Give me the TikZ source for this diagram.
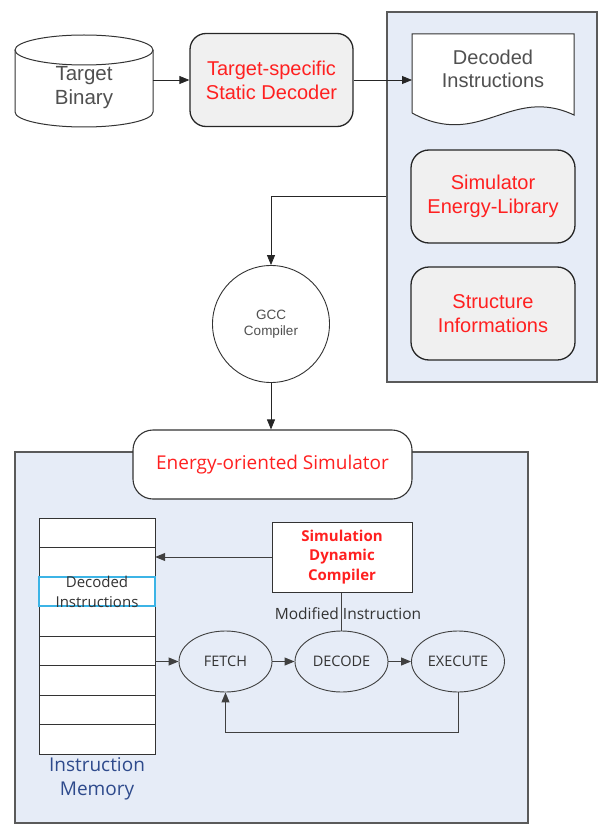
\documentclass[tikz,border=0pt]{standalone}
\usepackage{fontspec}
\setmainfont{Liberation Sans}
\newfontfamily\osfont{Open Sans}
\usetikzlibrary{arrows.meta,shapes.geometric,calc}
\definecolor{redtxt}{HTML}{FF2020}
\definecolor{panelfill}{HTML}{E6ECF7}
\definecolor{panelline}{HTML}{5A5A5A}
\definecolor{boxfill}{HTML}{F0F0F0}
\definecolor{graytxt}{HTML}{505050}
\definecolor{darktxt}{HTML}{333333}
\definecolor{memblue}{HTML}{2E4A8C}
\definecolor{cyanline}{HTML}{3CB4E6}
\tikzset{
  panel/.style={draw=panelline, line width=1.1pt, fill=panelfill, inner sep=0pt},
  rbox/.style={draw=black!85, line width=1.3pt, fill=boxfill, rounded corners=16pt,
    minimum width=163pt, minimum height=93pt, align=center, text=redtxt,
    font=\fontsize{20}{24}\selectfont},
  arr/.style={-{Triangle[length=10pt,width=8pt]}, line width=0.8pt, draw=black!85},
  sarr/.style={-{Triangle[length=10pt,width=8pt]}, line width=1pt, draw=black!75},
  stage/.style={ellipse, draw=black!75, line width=0.9pt, fill=panelfill, inner sep=0pt,
    minimum width=93pt, minimum height=61pt, text=darktxt, font=\osfont\fontsize{14.5}{17}\selectfont},
}
\begin{document}
\begin{tikzpicture}[x=1pt,y=-1pt]
\useasboundingbox (0,0) rectangle (599,824);
% panels
\node[panel, minimum width=210pt, minimum height=370pt] (rpanel) at (492,197) {};
\node[panel, minimum width=513pt, minimum height=371pt] (bpanel) at (271.5,637.5) {};

% Target Binary cylinder
\node[minimum width=138pt, minimum height=93pt, inner sep=0pt] (tb) at (84,80.5) {};
\draw[black!80, line width=1pt, fill=white] (15,50) -- (15,112) arc[start angle=180, end angle=360, x radius=69, y radius=-15] -- (153,50);
\draw[black!80, line width=1pt, fill=white] (84,50) ellipse[x radius=69, y radius=15];
\node[align=center, text=graytxt, font=\fontsize{20.5}{24}\selectfont] (tblbl) at (84,88) {Target\\Binary};

% decoder
\node[rbox] (dec) at (271.5,80) {Target-specific\\Static Decoder};

% document shape
\coordinate (docL) at (412,80);
\draw[black!80, line width=1pt, fill=white] (412,113) -- (412,34) -- (574,34) -- (574,115)
  .. controls (510,85) and (480,150) .. (412,113);
\node[align=center, text=graytxt, font=\fontsize{20}{23}\selectfont] (doc) at (493,68.5) {Decoded\\Instructions};

\node[rbox, minimum width=164pt, rounded corners=18pt] (simlib) at (493,196.5) {Simulator\\Energy-Library};
\node[rbox, minimum width=164pt, rounded corners=18pt] (struct) at (493,313.5) {Structure\\Informations};

% GCC
\node[circle, draw=black!80, line width=0.9pt, fill=white, minimum size=117pt, align=center,
  text=graytxt, font=\fontsize{13.5}{16}\selectfont] (gcc) at (271,324) {GCC\\Compiler};

% Energy-oriented simulator
\node[draw=black!80, line width=1.1pt, fill=white, rounded corners=20pt,
  minimum width=279pt, minimum height=69pt, text=redtxt,
  font=\osfont\fontsize{19}{23}\selectfont] (esim) at (272.5,464.5) {Energy-oriented Simulator};

% memory
\node[minimum width=116pt, minimum height=236pt, inner sep=0pt] (mem) at (97,636) {};
\foreach \i in {0,...,7}
  \draw[black!80, line width=1pt, fill=white] (39,{518+\i*29.5}) rectangle ++(116,29.5);
\draw[cyanline, line width=1.2pt] (39,577) rectangle (155,606);
\node[align=center, text=darktxt, font=\osfont\fontsize{15}{20}\selectfont] (decins) at (97,592) {Decoded\\Instructions};
\node[align=center, text=memblue, font=\osfont\fontsize{19}{24}\selectfont] (memlbl) at (97,779) {Instruction\\Memory};

% SDC
\node[draw=black!80, line width=1pt, fill=white, minimum width=140pt, minimum height=70pt,
  align=center, text=redtxt, font=\osfont\bfseries\fontsize{15}{19.5}\selectfont] (sdc) at (342,557) {Simulation\\Dynamic\\Compiler};

% stages
\node[stage] (fetch) at (225.5,661.5) {FETCH};
\node[stage] (decode) at (341.5,661.5) {DECODE};
\node[stage] (execute) at (458,661.5) {EXECUTE};

\draw[black!75, line width=1pt] (sdc.south -| decode.north) -- (decode.north);
\node[text=darktxt, font=\osfont\fontsize{15.5}{18}\selectfont] (modlbl) at (348,614) {Modified Instruction};

% connectors
\draw[arr] (tb.east |- dec.west) -- (dec.west);
\draw[arr] (dec.east) -- (docL);
\draw[arr] (simlib.west -| rpanel.west) -| (gcc.north);
\draw[arr] (gcc.south) -- (gcc.south |- esim.north);
\draw[sarr] (sdc.west) -- (sdc.west -| mem.east);
\draw[sarr] (fetch.west -| mem.east) -- (fetch.west);
\draw[sarr] (fetch.east) -- (decode.west);
\draw[sarr] (decode.east) -- (execute.west);
\draw[sarr] (execute.south) -- ++(0,40) -| (fetch.south);
\end{tikzpicture}
\end{document}
